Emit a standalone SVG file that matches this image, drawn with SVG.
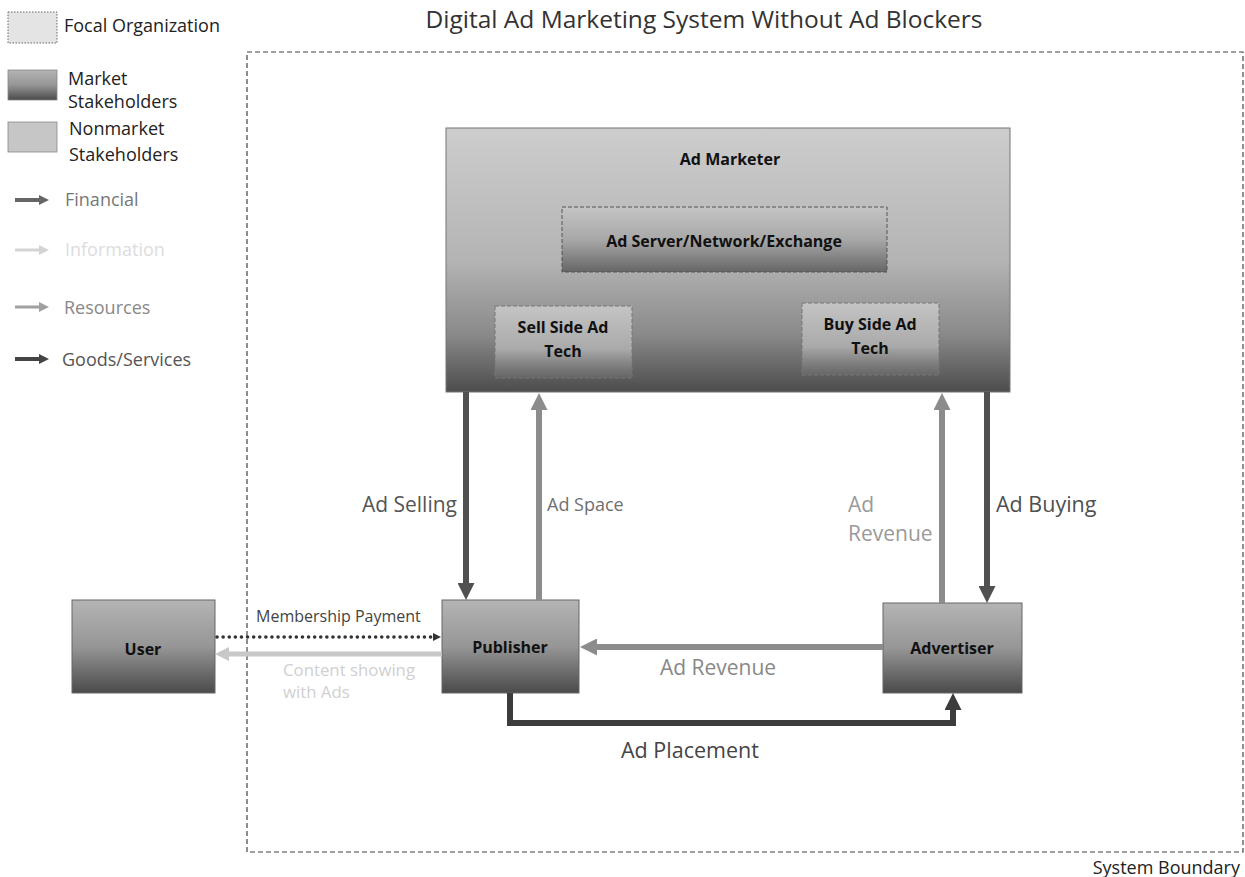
<svg xmlns="http://www.w3.org/2000/svg" width="1245" height="877" viewBox="0 0 1245 877">
<style>
text{font-family:"Open Sans","Liberation Sans",sans-serif}
.lbl{font-size:16px;font-weight:bold;fill:#111;text-anchor:middle}
.leg{font-size:18px}
.con{fill:none;stroke-width:6}
</style>
<defs>
<linearGradient id="gMarket" x1="0" y1="0" x2="0" y2="1">
<stop offset="0" stop-color="#b4b4b4"/><stop offset="0.5" stop-color="#969696"/><stop offset="1" stop-color="#4a4a4a"/>
</linearGradient>
<linearGradient id="gAM" x1="0" y1="0" x2="0" y2="1">
<stop offset="0" stop-color="#cdcdcd"/><stop offset="0.5" stop-color="#b4b4b4"/><stop offset="0.78" stop-color="#8a8a8a"/><stop offset="1" stop-color="#4c4c4c"/>
</linearGradient>
<linearGradient id="gServer" x1="0" y1="0" x2="0" y2="1">
<stop offset="0" stop-color="#c4c4c4"/><stop offset="0.5" stop-color="#a8a8a8"/><stop offset="1" stop-color="#666666"/>
</linearGradient>
<linearGradient id="gTech" x1="0" y1="0" x2="0" y2="1">
<stop offset="0" stop-color="#c4c4c4"/><stop offset="0.6" stop-color="#aaaaaa"/><stop offset="1" stop-color="#7a7a7a" stop-opacity="0.3"/>
</linearGradient>
<marker id="mDark" viewBox="0 0 10 10" refX="0" refY="5" markerWidth="17" markerHeight="17" markerUnits="userSpaceOnUse" orient="auto"><path d="M0,0L10,5L0,10z" fill="#505050"/></marker>
<marker id="mMid" viewBox="0 0 10 10" refX="0" refY="5" markerWidth="17" markerHeight="17" markerUnits="userSpaceOnUse" orient="auto"><path d="M0,0L10,5L0,10z" fill="#8c8c8c"/></marker>
<marker id="mGoods" viewBox="0 0 10 10" refX="0" refY="5" markerWidth="17" markerHeight="17" markerUnits="userSpaceOnUse" orient="auto"><path d="M0,0L10,5L0,10z" fill="#3c3c3c"/></marker>
<marker id="mLight" viewBox="0 0 10 10" refX="0" refY="5" markerWidth="14" markerHeight="14" markerUnits="userSpaceOnUse" orient="auto"><path d="M0,0L10,5L0,10z" fill="#c8c8c8"/></marker>
<marker id="mDot" viewBox="0 0 10 10" refX="0" refY="5" markerWidth="8" markerHeight="8" markerUnits="userSpaceOnUse" orient="auto"><path d="M0,0L10,5L0,10z" fill="#333"/></marker>
<marker id="mLegFin" viewBox="0 0 10 10" refX="0" refY="5" markerWidth="10" markerHeight="10" markerUnits="userSpaceOnUse" orient="auto"><path d="M0,0L10,5L0,10z" fill="#666"/></marker>
<marker id="mLegInf" viewBox="0 0 10 10" refX="0" refY="5" markerWidth="10" markerHeight="10" markerUnits="userSpaceOnUse" orient="auto"><path d="M0,0L10,5L0,10z" fill="#d4d4d4"/></marker>
<marker id="mLegRes" viewBox="0 0 10 10" refX="0" refY="5" markerWidth="10" markerHeight="10" markerUnits="userSpaceOnUse" orient="auto"><path d="M0,0L10,5L0,10z" fill="#a0a0a0"/></marker>
<marker id="mLegGood" viewBox="0 0 10 10" refX="0" refY="5" markerWidth="10" markerHeight="10" markerUnits="userSpaceOnUse" orient="auto"><path d="M0,0L10,5L0,10z" fill="#444"/></marker>
</defs>
<rect width="1245" height="877" fill="#fff"/>

<g id="legend">
<rect x="8" y="12" width="49" height="31" fill="#e4e4e4" stroke="#666" stroke-dasharray="1.5,1.5"/>
<text class="leg" x="64" y="32" fill="#222">Focal Organization</text>
<rect x="8" y="70" width="49" height="30" fill="url(#gMarket)" stroke="#888" stroke-width="0.8"/>
<text class="leg" x="68" y="85" font-size="17" fill="#222">Market</text>
<text class="leg" x="68" y="108" font-size="17" fill="#222">Stakeholders</text>
<rect x="8" y="122" width="49" height="30" fill="#c6c6c6" stroke="#888" stroke-width="0.8"/>
<text class="leg" x="69" y="135" font-size="17" fill="#222">Nonmarket</text>
<text class="leg" x="69" y="161" font-size="17" fill="#222">Stakeholders</text>
<line x1="15" y1="200" x2="39" y2="200" stroke="#666" stroke-width="4" marker-end="url(#mLegFin)"/>
<text class="leg" x="65" y="206" fill="#777">Financial</text>
<line x1="15" y1="250" x2="39" y2="250" stroke="#d4d4d4" stroke-width="3" marker-end="url(#mLegInf)"/>
<text class="leg" x="65" y="256" fill="#dcdcdc">Information</text>
<line x1="15" y1="307" x2="39" y2="307" stroke="#a0a0a0" stroke-width="3" marker-end="url(#mLegRes)"/>
<text class="leg" x="64" y="314" fill="#888">Resources</text>
<line x1="15" y1="359" x2="39" y2="359" stroke="#444" stroke-width="4" marker-end="url(#mLegGood)"/>
<text class="leg" x="62" y="366" fill="#555">Goods/Services</text>
</g>

<text x="704" y="28" font-size="24.5" fill="#333" text-anchor="middle">Digital Ad Marketing System Without Ad Blockers</text>

<g id="system-boundary">
<rect x="247" y="52" width="996" height="800" fill="none" stroke="#444" stroke-width="1.2" stroke-dasharray="5,3"/>
<text x="1240" y="874" font-size="18" fill="#222" text-anchor="end">System Boundary</text>
</g>

<g id="ad-marketer">
<rect x="446" y="128" width="564" height="264" fill="url(#gAM)" stroke="#777"/>
<text class="lbl" x="730" y="165" font-size="17">Ad Marketer</text>
</g>
<g id="ad-server">
<rect x="562" y="207" width="325" height="65" fill="url(#gServer)" stroke="#555" stroke-dasharray="4,2"/>
<text class="lbl" x="724" y="247">Ad Server/Network/Exchange</text>
</g>
<g id="sell-side">
<rect x="495" y="306" width="137" height="72" fill="url(#gTech)" stroke="#777" stroke-dasharray="4,2"/>
<text class="lbl" x="563" y="333">Sell Side Ad</text>
<text class="lbl" x="563" y="357">Tech</text>
</g>
<g id="buy-side">
<rect x="802" y="303" width="137" height="72" fill="url(#gTech)" stroke="#777" stroke-dasharray="4,2"/>
<text class="lbl" x="870" y="330">Buy Side Ad</text>
<text class="lbl" x="870" y="354">Tech</text>
</g>

<g id="user">
<rect x="72" y="600" width="143" height="93" fill="url(#gMarket)" stroke="#666"/>
<text class="lbl" x="143" y="655">User</text>
</g>
<g id="publisher">
<rect x="442" y="600" width="137" height="93" fill="url(#gMarket)" stroke="#666"/>
<text class="lbl" x="510" y="653">Publisher</text>
</g>
<g id="advertiser">
<rect x="883" y="603" width="139" height="90" fill="url(#gMarket)" stroke="#666"/>
<text class="lbl" x="952" y="654">Advertiser</text>
</g>

<g id="connectors">
<line class="con" x1="466" y1="392" x2="466" y2="583" stroke="#505050" marker-end="url(#mDark)"/>
<line class="con" x1="539" y1="600" x2="539" y2="410" stroke="#8c8c8c" marker-end="url(#mMid)"/>
<line class="con" x1="942" y1="603" x2="942" y2="410" stroke="#8c8c8c" marker-end="url(#mMid)"/>
<line class="con" x1="987" y1="392" x2="987" y2="586" stroke="#505050" marker-end="url(#mDark)"/>
<line class="con" x1="883" y1="647" x2="597" y2="647" stroke="#8c8c8c" marker-end="url(#mMid)"/>
<path class="con" d="M510,693V723H953V710" stroke="#3c3c3c" marker-end="url(#mGoods)"/>
<line x1="217" y1="637" x2="433" y2="637" stroke="#333" stroke-width="3.5" stroke-dasharray="0.1,6" stroke-linecap="round" fill="none" marker-end="url(#mDot)"/>
<line x1="442" y1="654" x2="229" y2="654" stroke="#c8c8c8" stroke-width="5" fill="none" marker-end="url(#mLight)"/>
</g>

<g id="connector-labels">
<text x="457" y="512" font-size="21" fill="#555" text-anchor="end">Ad Selling</text>
<text x="547" y="511" font-size="18" fill="#707070">Ad Space</text>
<text x="848" y="512" font-size="21" fill="#9a9a9a">Ad</text>
<text x="848" y="541" font-size="21" fill="#9a9a9a">Revenue</text>
<text x="996" y="512" font-size="21.5" fill="#505050">Ad Buying</text>
<text x="660" y="675" font-size="21" fill="#888">Ad Revenue</text>
<text x="621" y="758" font-size="21.5" fill="#444">Ad Placement</text>
<text x="256" y="622" font-size="16" fill="#444">Membership Payment</text>
<text x="283" y="676" font-size="16.8" fill="#d0d0d0">Content showing</text>
<text x="283" y="698" font-size="16.8" fill="#d0d0d0">with Ads</text>
</g>
</svg>
